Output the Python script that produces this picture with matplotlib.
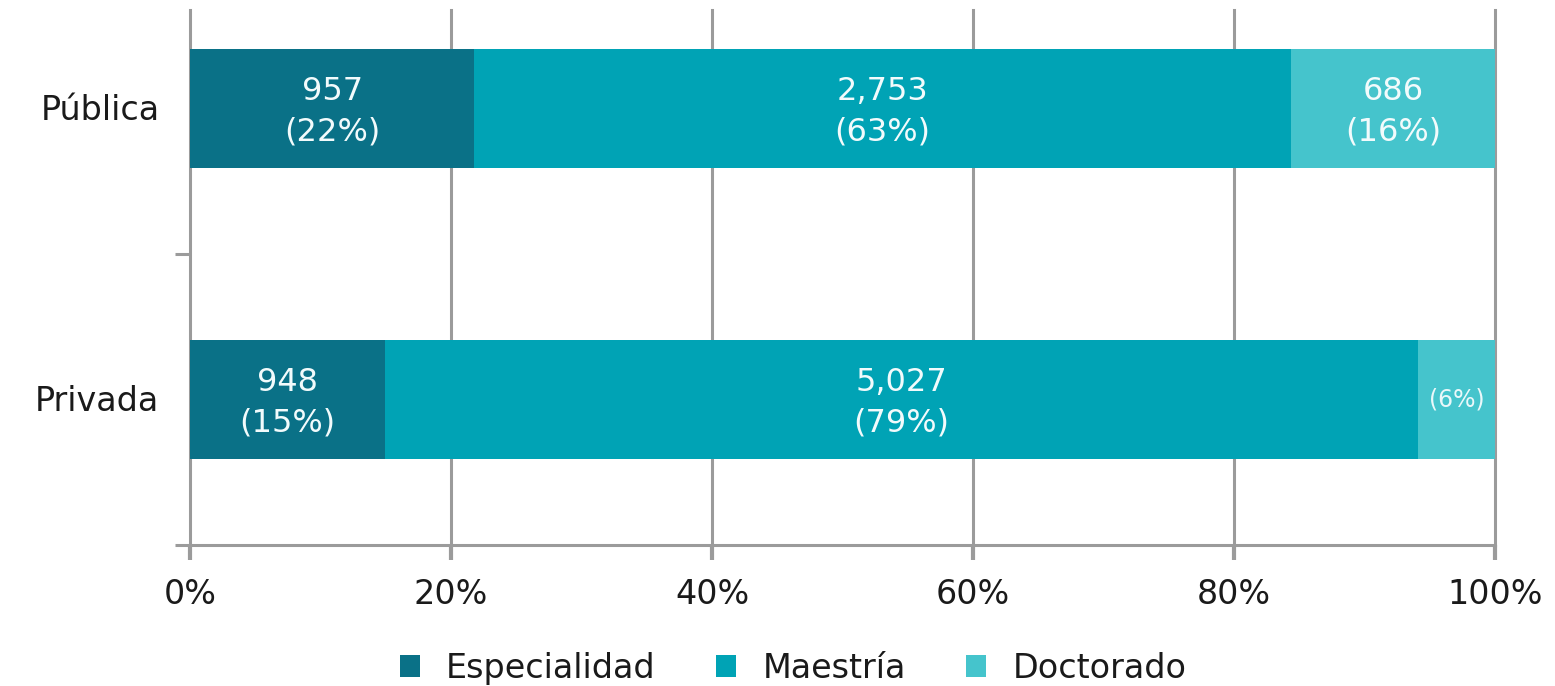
import matplotlib
matplotlib.use("Agg")
from matplotlib import pyplot as plt
import numpy as np

categories = ['Privada', 'Pública']
series = ['Especialidad', 'Maestría', 'Doctorado']
especialidad = [948, 957]
maestria = [5027, 2753]
doctorado = [375, 686]
colors = ['#0a7187', '#00a3b5', '#45c4cc']

grey = '#9b9b9b'
plt.rcParams['font.family'] = ['DejaVu Sans']

fig = plt.figure(figsize=(15.55, 6.86), dpi=100)
ax = fig.add_axes([0.1222, 0.2055, 0.8392, 0.7800])

values = np.array([especialidad, maestria, doctorado], dtype=float)
totals = values.sum(axis=0)
shares = values / totals
y = np.arange(len(categories))

# stacked 100% bars with count + share labels
left = np.zeros(len(categories))
for i, name in enumerate(series):
    ax.barh(y, shares[i], left=left, height=0.41, color=colors[i],
            label=name, zorder=2)
    for j in range(len(categories)):
        cx = left[j] + shares[i][j] / 2
        pct = '({:.0f}%)'.format(shares[i][j] * 100)
        if shares[i][j] < 0.1:
            ax.text(cx, y[j], pct, ha='center', va='center', fontsize=17,
                    color='#eaf8fa', zorder=3)
        else:
            txt = '{:,.0f}\n{}'.format(values[i][j], pct)
            ax.text(cx, y[j] - 0.01, txt, ha='center', va='center', fontsize=23,
                    color='#f2fbfc', linespacing=1.4, zorder=3)
    left += shares[i]

ax.set_xlim(0, 1)
ax.set_ylim(-0.5, 1.34)
ax.set_xticks(np.arange(0, 1.01, 0.2))
ax.set_xticklabels(['{:.0f}%'.format(v * 100) for v in np.arange(0, 1.01, 0.2)],
                   fontsize=24, color='#1a1a1a')
ax.tick_params(axis='x', length=11, width=3, color=grey, pad=13)
ax.grid(axis='x', color=grey, linewidth=2.2, zorder=0)
for gl in ax.get_xgridlines():
    gl.set_clip_on(False)
ax.set_axisbelow(True)

ax.set_yticks([-0.5, 0.5])
ax.set_yticklabels([])
ax.tick_params(axis='y', which='major', length=11, width=2.2, color=grey)
ax.set_yticks(y + 0.007, minor=True)
ax.set_yticklabels(categories, minor=True, fontsize=24, color='#1a1a1a')
ax.tick_params(axis='y', which='minor', length=0, pad=22)

for s in ['top', 'right', 'left']:
    ax.spines[s].set_visible(False)
ax.spines['bottom'].set_color(grey)
ax.spines['bottom'].set_linewidth(2.2)

fig.legend(loc='lower center', bbox_to_anchor=(0.51, -0.042), ncol=3,
           frameon=False, fontsize=24, handlelength=0.6, handleheight=0.6,
           handletextpad=0.8, columnspacing=1.8, labelcolor='#1a1a1a')

fig.savefig('out.png', dpi=100)
